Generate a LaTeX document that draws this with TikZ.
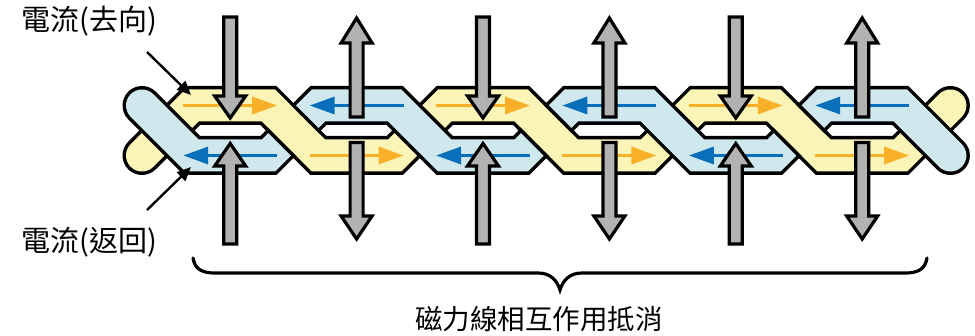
\documentclass[tikz,border=0pt]{standalone}
\usepackage{fontspec}
\newfontfamily\cjk{Noto Sans CJK TC}
\usetikzlibrary{arrows.meta}
\definecolor{bandYellow}{RGB}{250,244,183}
\definecolor{bandBlue}{RGB}{207,232,238}
\definecolor{flowOrange}{RGB}{247,176,40}
\definecolor{flowBlue}{RGB}{10,111,186}
\definecolor{fieldGrey}{RGB}{178,178,178}

\begin{document}
\begin{tikzpicture}[x=1pt,y=-1pt,
  edge/.style={line width=39pt, draw=black, line join=miter, line cap=round},
  core/.style={line width=32pt, line join=miter, line cap=round},
  rim/.style={line width=3.5pt, draw=black},
  flow/.style={line width=3.2pt, -{Triangle[length=25pt,width=17pt]}},
  field/.style={draw=black, fill=fieldGrey, line width=3.2pt, line join=miter},
  leader/.style={line width=2.4pt, -{Triangle[length=14pt,width=12pt]}},
  label/.style={inner sep=0pt, anchor=west, font=\cjk\fontsize{29}{32}\selectfont},
  caption/.style={inner sep=0pt, anchor=west, font=\cjk\fontsize{27.5}{30}\selectfont},
  brace/.style={line width=3.2pt, line cap=round},
]
\useasboundingbox (0,0) rectangle (975,336);

\def\yU{105.5}
\def\yL{155.5}

% outgoing conductor (yellow)
\def\yellowpath{(142,\yL) -- (192,\yU) -- (268.4,\yU) -- (318.4,\yL) -- (394.8,\yL) -- (444.8,\yU) -- (521.2,\yU) -- (571.2,\yL) -- (647.6,\yL) -- (697.6,\yU) -- (774,\yU) -- (824,\yL) -- (900.4,\yL) -- (950.4,\yU)}
% return conductor (blue)
\def\bluepath{(142,\yU) -- (192,\yL) -- (268.4,\yL) -- (318.4,\yU) -- (394.8,\yU) -- (444.8,\yL) -- (521.2,\yL) -- (571.2,\yU) -- (647.6,\yU) -- (697.6,\yL) -- (774,\yL) -- (824,\yU) -- (900.4,\yU) -- (950.4,\yL)}

\draw[edge] \yellowpath;
\draw[core, draw=bandYellow] \yellowpath;
\draw[edge] \bluepath;
\draw[core, draw=bandBlue] \bluepath;

% yellow passes over the blue conductor at these crossings
\foreach \c in {293.4,546.2,799} {
  \fill[bandYellow] (\c+26.38,133.82) -- (\c+3.32,157.38) -- (\c-26.38,127.18) -- (\c-3.32,103.62) -- cycle;
  \draw[rim] (\c-2.30,103.10) -- (\c+27.40,132.80);
  \draw[rim] (\c-27.40,128.20) -- (\c+2.30,157.90);
}

% current direction inside the conductors
\foreach \X in {230.2,483,735.8} {
  \draw[flow, flowOrange] (\X-47,\yU) -- (\X+47,\yU);
  \draw[flow, flowBlue] (\X+47,\yL) -- (\X-47,\yL);
}
\foreach \X in {356.6,609.4,862.2} {
  \draw[flow, flowBlue] (\X+47,\yU) -- (\X-47,\yU);
  \draw[flow, flowOrange] (\X-47,\yL) -- (\X+47,\yL);
}

% magnetic field arrows: converging pairs
\foreach \X in {230.2,483,735.8} {
  \draw[field] (\X-6.5,17) -- (\X+6.5,17) -- (\X+6.5,96) -- (\X+15.5,96) -- (\X,118) -- (\X-15.5,96) -- (\X-6.5,96) -- cycle;
  \draw[field] (\X-6.5,244) -- (\X+6.5,244) -- (\X+6.5,166) -- (\X+15.5,166) -- (\X,143.5) -- (\X-15.5,166) -- (\X-6.5,166) -- cycle;
}
% magnetic field arrows: diverging pairs
\foreach \X in {356.6,609.4,862.2} {
  \draw[field] (\X-6.5,117) -- (\X+6.5,117) -- (\X+6.5,43) -- (\X+15.5,43) -- (\X,18) -- (\X-15.5,43) -- (\X-6.5,43) -- cycle;
  \draw[field] (\X-6.5,142.5) -- (\X+6.5,142.5) -- (\X+6.5,216) -- (\X+15.5,216) -- (\X,239) -- (\X-15.5,216) -- (\X-6.5,216) -- cycle;
}

% labels and leaders
\node[label] (fwdLabel) at (21,20.8) {電流(去向)};
\node[label] (retLabel) at (21,241.7) {電流(返回)};
\coordinate (fwdTail) at (147,52);
\coordinate (fwdTip) at (191,95);
\coordinate (retTail) at (147,210);
\coordinate (retTip) at (191,167);
\draw[leader] (fwdTail) -- (fwdTip);
\draw[leader] (retTail) -- (retTip);

% brace and caption
\coordinate (braceL) at (193,258);
\coordinate (braceTip) at (560,290);
\coordinate (braceR) at (927,258);
\draw[brace] (braceL) .. controls (195,270) and (203,273) .. (215,273) -- (538,273)
  .. controls (550,273) and (557,280) .. (braceTip)
  .. controls (563,280) and (570,273) .. (582,273) -- (905,273)
  .. controls (917,273) and (925,270) .. (braceR);
\node[caption] (caption) at (415,319) {磁力線相互作用抵消};
\end{tikzpicture}
\end{document}
